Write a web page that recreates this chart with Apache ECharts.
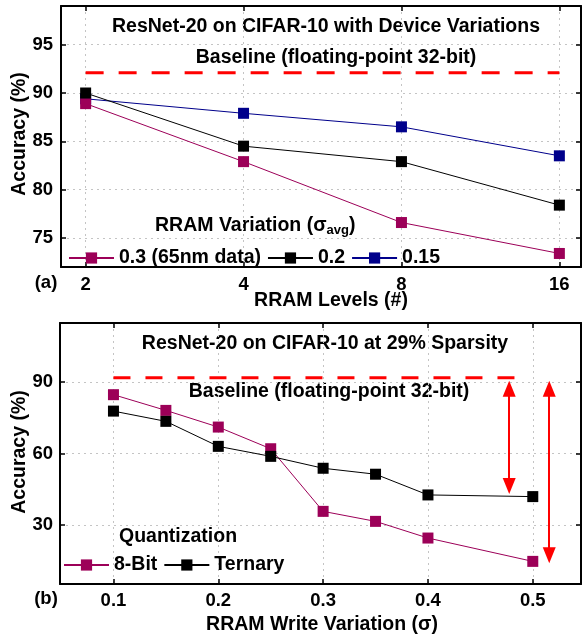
<!DOCTYPE html>
<html>
<head>
<meta charset="utf-8">
<script src="https://cdn.jsdelivr.net/npm/echarts@6/dist/echarts.min.js"></script>
<style>
html,body{margin:0;padding:0;background:#fff;}
#c{width:582px;height:639px;}
</style>
</head>
<body>
<div id="c"></div>
<script>
// ---------- data: panel (a) ----------
const levels = [2, 4, 8, 16];
const var03 = [88.9, 82.9, 76.6, 73.4];   // 0.3 (65nm data)
const var02 = [90.0, 84.5, 82.9, 78.4];   // 0.2
const var015 = [89.4, 87.9, 86.5, 83.5];  // 0.15
const topYTicks = [75, 80, 85, 90, 95];
const baselineTop = 92.1;

// ---------- data: panel (b) ----------
const sigma = [0.1, 0.15, 0.2, 0.25, 0.3, 0.35, 0.4, 0.5];
const bit8 = [84.7, 78.1, 71.1, 62.0, 35.7, 31.5, 24.5, 14.7];
const ternary = [77.8, 73.5, 63.0, 58.8, 53.8, 51.3, 42.6, 41.9];
const bottomXTicks = [0.1, 0.2, 0.3, 0.4, 0.5];
const bottomYTicks = [30, 60, 90];
const baselineBottom = 91.8;
const baselineBottomSpan = [0.1, 0.487];
// gap arrows: [sigma, upper arrowhead centre, lower arrowhead centre]
const gapArrows = [[0.4775, 87.2, 46.4], [0.5157, 87.2, 17.3]];

const FONT = '"Liberation Sans", Arial, sans-serif';
const MAG = '#9c0058', NAVY = '#00008b', BLK = '#000000', RED = '#ff0000';
const TF = 'bold 19.5px ' + FONT;

const lx = levels.map(v => Math.log2(v));
const pts = (xs, ys) => xs.map((x, i) => [x, ys[i]]);

const gridLine = {show: true, lineStyle: {color: '#c4c4c4', type: [2, 4], width: 1}};
const axLine = {show: true, onZero: false, lineStyle: {color: '#000', width: 2}};
function tick(vals) { return {show: true, inside: true, length: 5, lineStyle: {color: '#000', width: 1.5}, customValues: vals}; }
const lbl = {fontFamily: FONT, fontWeight: 'bold', fontSize: 18.5, color: '#000'};

function lineSeries(name, data, color, xi, yi, z) {
  return {
    name, type: 'line', data, xAxisIndex: xi, yAxisIndex: yi,
    symbol: 'rect', symbolSize: 11, showSymbol: true,
    lineStyle: {color, width: 1}, itemStyle: {color}, z, animation: false
  };
}

const chart = echarts.init(document.getElementById('c'), null, {renderer: 'canvas'});
const option = {
  animation: false,
  backgroundColor: '#fff',
  grid: [
    {left: 61, right: 1, top: 6, height: 261},
    {left: 60, right: 1, top: 323, height: 261}
  ],
  xAxis: [
    {gridIndex: 0, type: 'value', min: 0.844, max: 4.137, position: 'bottom',
     axisLine: axLine, axisTick: tick(lx), splitLine: gridLine,
     axisLabel: Object.assign({margin: 8, customValues: lx, formatter: v => String(Math.round(Math.pow(2, v)))}, lbl)},
    {gridIndex: 0, type: 'value', min: 0.844, max: 4.137, position: 'top',
     axisLine: axLine, axisTick: tick(lx), splitLine: {show: false}, axisLabel: {show: false}},
    {gridIndex: 1, type: 'value', min: 0.049, max: 0.546, position: 'bottom',
     axisLine: axLine, axisTick: tick(bottomXTicks), splitLine: gridLine,
     axisLabel: Object.assign({margin: 7, customValues: bottomXTicks, formatter: v => v.toFixed(1)}, lbl)},
    {gridIndex: 1, type: 'value', min: 0.049, max: 0.546, position: 'top',
     axisLine: axLine, axisTick: tick(bottomXTicks), splitLine: {show: false}, axisLabel: {show: false}}
  ],
  yAxis: [
    {gridIndex: 0, type: 'value', min: 72, max: 99, position: 'left',
     axisLine: axLine, axisTick: tick(topYTicks), splitLine: gridLine,
     axisLabel: Object.assign({margin: 8, customValues: topYTicks}, lbl)},
    {gridIndex: 0, type: 'value', min: 72, max: 99, position: 'right',
     axisLine: axLine, axisTick: tick(topYTicks), splitLine: {show: false}, axisLabel: {show: false}},
    {gridIndex: 1, type: 'value', min: 5.2, max: 114.8, position: 'left',
     axisLine: axLine, axisTick: tick(bottomYTicks), splitLine: gridLine,
     axisLabel: Object.assign({margin: 7, customValues: bottomYTicks}, lbl)},
    {gridIndex: 1, type: 'value', min: 5.2, max: 114.8, position: 'right',
     axisLine: axLine, axisTick: tick(bottomYTicks), splitLine: {show: false}, axisLabel: {show: false}}
  ],
  legend: [
    {data: ['0.3 (65nm data)', '0.2', '0.15'], left: 68, top: 248, padding: 0,
     itemWidth: 45, itemHeight: 14, itemGap: 6, selectedMode: false,
     textStyle: {fontFamily: FONT, fontWeight: 'bold', fontSize: 19.5, color: '#000', lineHeight: 20}},
    {data: ['8-Bit', 'Ternary'], left: 63, top: 555, padding: 0,
     itemWidth: 45, itemHeight: 14, itemGap: 6, selectedMode: false,
     textStyle: {fontFamily: FONT, fontWeight: 'bold', fontSize: 19.5, color: '#000', lineHeight: 20}}
  ],
  series: [
    {name: 'baselineA', type: 'line', xAxisIndex: 0, yAxisIndex: 0,
     data: [[lx[0], baselineTop], [lx[lx.length - 1], baselineTop]],
     symbol: 'none', lineStyle: {color: RED, width: 3, type: [18, 15]}, z: 1, silent: true},
    lineSeries('0.15', pts(lx, var015), NAVY, 0, 0, 2),
    lineSeries('0.3 (65nm data)', pts(lx, var03), MAG, 0, 0, 3),
    lineSeries('0.2', pts(lx, var02), BLK, 0, 0, 4),
    {name: 'baselineB', type: 'line', xAxisIndex: 2, yAxisIndex: 2,
     data: [[baselineBottomSpan[0], baselineBottom], [baselineBottomSpan[1], baselineBottom]],
     symbol: 'none', lineStyle: {color: RED, width: 3, type: [17, 15]}, z: 1, silent: true,
     markLine: {
       silent: true, animation: false,
       symbol: ['triangle', 'triangle'], symbolSize: [13, 16],
       lineStyle: {color: RED, width: 2, type: 'solid'},
       label: {show: false},
       data: gapArrows.map(a => [{coord: [a[0], a[1]]}, {coord: [a[0], a[2]]}])
     }},
    lineSeries('8-Bit', pts(sigma, bit8), MAG, 2, 2, 3),
    lineSeries('Ternary', pts(sigma, ternary), BLK, 2, 2, 4)
  ],
  graphic: [
    {type: 'text', x: 326, y: 27, style: {text: 'ResNet-20 on CIFAR-10 with Device Variations', align: 'center', verticalAlign: 'middle', font: TF, fill: '#000'}},
    {type: 'text', x: 336, y: 58, style: {text: 'Baseline (floating-point 32-bit)', align: 'center', verticalAlign: 'middle', font: TF, fill: '#000'}},
    {type: 'text', x: 155, y: 226, style: {
      text: '{m|RRAM Variation (σ}{s|avg}{m|)}', align: 'left', verticalAlign: 'middle',
      rich: {m: {fontFamily: FONT, fontWeight: 'bold', fontSize: 19.5, lineHeight: 22, fill: '#000'},
             s: {fontFamily: FONT, fontWeight: 'bold', fontSize: 13, lineHeight: 10, verticalAlign: 'bottom', fill: '#000'}}}},
    {type: 'text', x: 20, y: 134, rotation: Math.PI / 2, style: {text: 'Accuracy (%)', align: 'center', verticalAlign: 'middle', font: TF, fill: '#000'}},
    {type: 'text', x: 46, y: 283, style: {text: '(a)', align: 'center', verticalAlign: 'middle', font: 'bold 18.5px ' + FONT, fill: '#000'}},
    {type: 'text', x: 331, y: 301, style: {text: 'RRAM Levels (#)', align: 'center', verticalAlign: 'middle', font: TF, fill: '#000'}},

    {type: 'text', x: 325, y: 344, style: {text: 'ResNet-20 on CIFAR-10 at 29% Sparsity', align: 'center', verticalAlign: 'middle', font: TF, fill: '#000'}},
    {type: 'text', x: 329, y: 392, style: {text: 'Baseline (floating-point 32-bit)', align: 'center', verticalAlign: 'middle', font: TF, fill: '#000'}},
    {type: 'text', x: 119, y: 537, style: {text: 'Quantization', align: 'left', verticalAlign: 'middle', font: TF, fill: '#000'}},
    {type: 'text', x: 20, y: 452, rotation: Math.PI / 2, style: {text: 'Accuracy (%)', align: 'center', verticalAlign: 'middle', font: TF, fill: '#000'}},
    {type: 'text', x: 46, y: 599, style: {text: '(b)', align: 'center', verticalAlign: 'middle', font: 'bold 18.5px ' + FONT, fill: '#000'}},
    {type: 'text', x: 322, y: 625, style: {text: 'RRAM Write Variation (σ)', align: 'center', verticalAlign: 'middle', font: TF, fill: '#000'}}
  ]
};
chart.setOption(option);
</script>
</body>
</html>
